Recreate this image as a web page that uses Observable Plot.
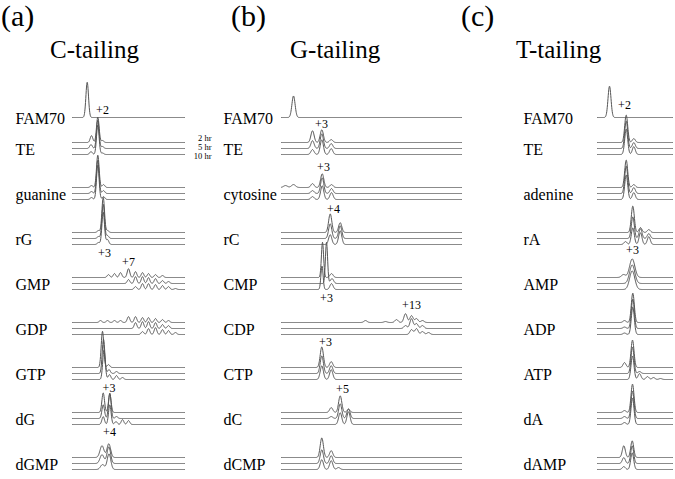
<!DOCTYPE html>
<html><head><meta charset="utf-8">
<script src="https://cdn.jsdelivr.net/npm/d3@7"></script>
<script src="https://cdn.jsdelivr.net/npm/@observablehq/plot@0.6"></script>
<style>
body{margin:0;background:#fff}
#wrap{position:relative;width:675px;height:479px;overflow:hidden}
#wrap svg, #wrap svg text{font-family:'Liberation Serif','Times New Roman',Times,'DejaVu Serif',serif !important}
.p{position:absolute;top:0}
</style>
</head><body><div id="wrap"></div>
<script>
// ---------- data ----------
const times = ["2 hr", "5 hr", "10 hr"];
const panelLetters = ["(a)", "(b)", "(c)"];
const panelTitles = ["C-tailing", "G-tailing", "T-tailing"];

// peaks: [migration position, height, width?]
const rowsA = ["FAM70","TE","guanine","rG","GMP","GDP","GTP","dG","dGMP"];
const famA = [[14.7, 36]];
const a2hr = [
  [[19,7],[25.3,26],[30,2]],
  [[19,2],[25.3,33],[31,3]],
  [[26,2],[30.7,36],[35,2]],
  [[36,3],[42,4],[48,5],[56,9],[63,6],[70,5],[76,4],[83,3],[90,2]],
  [[28,2],[35,2],[42,2],[48,2],[56,6],[63,6],[70,5],[76,5],[83,4],[90,3],[96,2]],
  [[30,37],[36,3]],
  [[30.7,20],[37.3,19]],
  [[29.5,12,2],[36.3,14,1.8]]
];
const a5hr = [
  [[18.5,4],[25.3,29],[30,2]],
  [[19,2],[25.3,34],[31,3]],
  [[26,2],[30.7,35],[35,3]],
  [[56,4],[63,7],[70,7],[76,6],[83,5],[90,3],[96,2]],
  [[63,6],[70,7],[76,7],[83,6],[90,4],[96,3]],
  [[31,35],[36.5,4],[44,2]],
  [[30.7,14],[37.3,26],[44,2]],
  [[29.5,9,2],[36.3,17,1.8]]
];
const a10hr = [
  [[18.5,3],[25.3,30],[30,1.5]],
  [[19,2],[25.3,35],[31,3]],
  [[26,2],[30.7,33],[35,5]],
  [[63,3],[70,6],[76,6],[83,5],[90,4],[96,3],[103,1]],
  [[70,3],[76,6],[83,7],[90,5],[96,4],[103,2]],
  [[31.5,30],[37,5],[44,4],[50,2]],
  [[30.7,8],[37.3,20],[43.5,3],[50,5],[56,4]],
  [[30,5,2],[36.5,16,1.8]]
];
const notesA = [["TE",30,39,"+2"],["rG",32,-15,"+3"],["GMP",56,22,"+7"],["dG",36.5,31,"+3"],["dGMP",37,32,"+4"]];

const rowsB = ["FAM70","TE","cytosine","rC","CMP","CDP","CTP","dC","dCMP"];
const famB = [[12, 22]];
const b2hr = [
  [[31,12],[40.3,13],[49.7,3]],
  [[4,2,2],[12,3,2],[31,4],[40.7,14],[50,3]],
  [[48.7,19],[58.7,10]],
  [[41,36,1.1],[50,4]],
  [[84,2],[104,1],[115,3],[124,9],[130,7],[135,4],[141,2]],
  [[40.3,21],[49.7,6]],
  [[49.7,5],[58.7,17],[67,3]],
  [[40.3,20],[49.7,7]]
];
const b5hr = [
  [[31,8],[40.3,15],[49.7,5]],
  [[31,3],[40.7,16],[50,5]],
  [[48.7,15],[58.7,13]],
  [[45,42,1.1],[50.5,5]],
  [[124,3],[130,10],[135,5],[141,3]],
  [[40.3,18],[49.7,8]],
  [[49.7,2],[58.7,15],[67,10]],
  [[40.3,14],[49.7,8]]
];
const b10hr = [
  [[31,5],[40.3,15],[49.7,6]],
  [[31,3],[40.7,14],[50,7]],
  [[48.7,10],[58.7,14]],
  [[40.5,24,1.1],[50,6]],
  [[130,5],[135,6],[141,3],[147,2]],
  [[40.3,14],[49.7,10]],
  [[58.7,12],[67,13]],
  [[40.3,10],[49.7,9],[57,2]]
];
const notesB = [["TE",40,25,"+3"],["cytosine",42,27,"+3"],["rC",52,30,"+4"],["CMP",45,-15,"+3"],["CDP",130,24,"+13"],["CTP",44,32,"+3"],["dC",61,30,"+5"]];

const rowsC = ["FAM70","TE","adenine","rA","AMP","ADP","ATP","dA","dAMP"];
const famC = [[12, 32]];
const c2hr = [
  [[28.7,28],[36.3,4]],
  [[28.7,28],[36.3,3]],
  [[35.3,27],[43,5],[51.3,3]],
  [[26,3,2],[34.7,19,2.6]],
  [[27,2],[35.3,30]],
  [[27,5],[35,28]],
  [[27,2],[35,29]],
  [[26.3,12],[34.7,17]]
];
const c5hr = [
  [[28.7,28],[36.3,6]],
  [[28.7,28],[36.3,6]],
  [[35.3,22],[43,10],[51.3,5]],
  [[34.7,19,2.6]],
  [[27,1.5],[35.3,30]],
  [[35,27],[42,2]],
  [[27,2],[35,28]],
  [[26.3,6],[34.7,18]]
];
const c10hr = [
  [[28.7,26],[36.3,8]],
  [[28.7,25],[36.3,7]],
  [[28,3],[35.3,17],[43,12],[51.3,8]],
  [[34.7,19,2.6]],
  [[27,1.5],[35.3,28]],
  [[35,24],[42,6],[50,3],[56,2],[63,1]],
  [[27,2],[35,27]],
  [[26.3,3],[34.7,17]]
];
const notesC = [["TE",27,44,"+2"],["AMP",35,34,"+3"]];

// ---------- rendering ----------
const wrap = document.getElementById("wrap");
const STROKE = "#555";
const FONT = "'Liberation Serif','Times New Roman',Times,'DejaVu Serif',serif";

function trace(row, peaks, len, sigma) {
  const pts = [];
  for (let x = 0; x <= len + 1e-9; x += 0.25) {
    let y = 0;
    for (const [p, h, w] of peaks) {
      const s = w || sigma;
      y += h * Math.exp(-0.5 * ((x - p) / s) ** 2);
    }
    pts.push({row, x, y});
  }
  return pts;
}

function panel(cfg) {
  const {rows, fam, series, notes, len, sigma, left, width, marginLeft, marginRight, labelDx, timeLabels} = cfg;
  const famPts = trace(rows[0], fam, len, sigma);
  const dys = [-6, 0, 6];
  const marks = [
    Plot.line(famPts, {x: "x", y: "y", fy: "row", stroke: STROKE, strokeWidth: 1, dy: 14})
  ];
  series.forEach((s, k) => {
    const pts = rows.slice(1).flatMap((r, i) => trace(r, s[i], len, sigma));
    marks.push(Plot.line(pts, {x: "x", y: "y", z: "row", fy: "row", stroke: STROKE, strokeWidth: 1, dy: dys[k]}));
  });
  marks.push(Plot.text(rows.slice(0, 1), {fy: d => d, y: () => 0, text: d => d, frameAnchor: "left", textAnchor: "start", dx: labelDx, dy: 15, fontSize: 16, fill: "#000", fontFamily: FONT}));
  marks.push(Plot.text(rows.slice(1), {fy: d => d, y: () => 0, text: d => d, frameAnchor: "left", textAnchor: "start", dx: labelDx, dy: 1, fontSize: 16, fill: "#000", fontFamily: FONT}));
  marks.push(Plot.text(notes, {fy: d => d[0], x: d => d[1], y: d => d[2], text: d => d[3], fontSize: 12, fill: "#000", lineAnchor: "middle", fontFamily: FONT}));
  if (timeLabels) {
    marks.push(Plot.text(times, {fy: () => "TE", y: (d, i) => [7.5, -1.5, -10.5][i], text: d => d, frameAnchor: "right", textAnchor: "end", lineAnchor: "bottom", dx: 27, fontSize: 8.5, fill: "#000", fontFamily: FONT}));
  }
  const svg = Plot.plot({
    width, height: 479,
    marginLeft, marginRight, marginTop: 54, marginBottom: 12,
    style: {fontFamily: FONT, background: "transparent", overflow: "visible"},
    x: {domain: [0, len], axis: null},
    y: {domain: [0, 46], axis: null},
    fy: {domain: rows, axis: null, padding: 0},
    marks
  });
  const d = document.createElement("div");
  d.className = "p";
  d.style.left = left + "px";
  d.appendChild(svg);
  wrap.appendChild(d);
}

panel({rows: rowsA, fam: famA, series: [a2hr, a5hr, a10hr], notes: notesA, len: 112, sigma: 1.3,
  left: 0, width: 220, marginLeft: 72, marginRight: 36, labelDx: -57, timeLabels: true});
panel({rows: rowsB, fam: famB, series: [b2hr, b5hr, b10hr], notes: notesB, len: 180, sigma: 1.6,
  left: 220, width: 250, marginLeft: 61, marginRight: 9, labelDx: -58});
panel({rows: rowsC, fam: famC, series: [c2hr, c5hr, c10hr], notes: notesC, len: 75, sigma: 1.5,
  left: 470, width: 205, marginLeft: 127, marginRight: 3, labelDx: -74});

// titles (overlay svg)
const letterLefts = [1, 231, 461];
const titleLefts = [50, 290, 516];
const ov = d3.create("svg").attr("width", 675).attr("height", 70)
  .style("position", "absolute").style("left", "0px").style("top", "0px");
ov.selectAll("text.l").data(panelLetters).join("text").attr("class", "l")
  .attr("x", (d, i) => letterLefts[i]).attr("y", 26)
  .attr("font-size", 30).attr("font-family", FONT).attr("fill", "#000").text(d => d);
ov.selectAll("text.h").data(panelTitles).join("text").attr("class", "h")
  .attr("x", (d, i) => titleLefts[i]).attr("y", 58)
  .attr("font-size", 25).attr("font-family", FONT).attr("fill", "#000").text(d => d);
wrap.appendChild(ov.node());
</script>
</body></html>
